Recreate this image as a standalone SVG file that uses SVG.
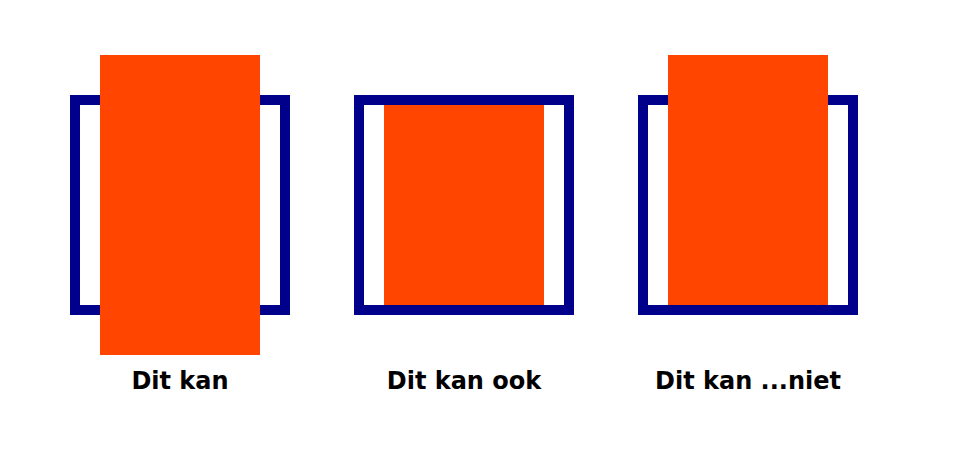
<svg xmlns="http://www.w3.org/2000/svg" width="960" height="456" viewBox="0 0 960 456">
<style>
.frame{fill:none;stroke:#00008b;stroke-width:10}
.block{fill:#ff4500}
.lbl{font-family:"DejaVu Sans",sans-serif;font-weight:bold;font-size:24px;text-anchor:middle;fill:#000}
</style>
<rect width="960" height="456" fill="#fff"/>
<g id="case1">
<rect class="frame" x="75" y="100" width="210" height="210"/>
<rect class="block" x="100" y="55" width="160" height="300"/>
<text class="lbl" x="180" y="389">Dit kan</text>
</g>
<g id="case2">
<rect class="frame" x="359" y="100" width="210" height="210"/>
<rect class="block" x="384" y="105" width="160" height="200"/>
<text class="lbl" x="464" y="389">Dit kan ook</text>
</g>
<g id="case3">
<rect class="frame" x="643" y="100" width="210" height="210"/>
<rect class="block" x="668" y="55" width="160" height="250"/>
<text class="lbl" x="748" y="389">Dit kan ...niet</text>
</g>
<g id="connectors"/>
</svg>
